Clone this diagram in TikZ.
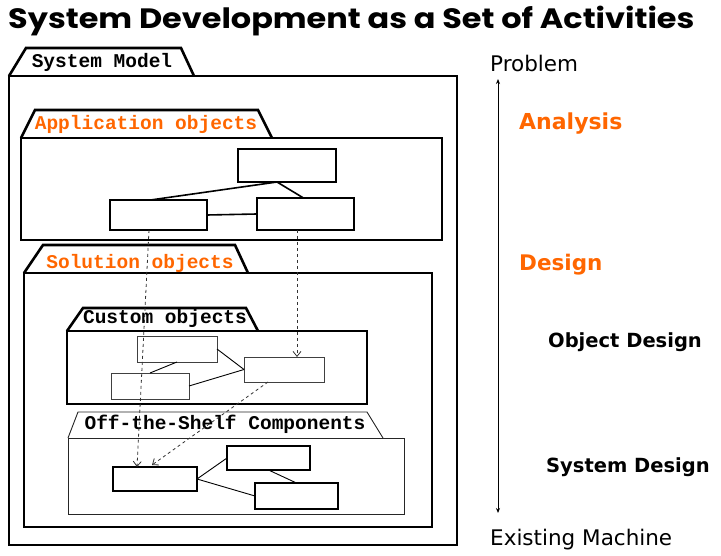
\documentclass[tikz,border=0pt]{standalone}
\usepackage{fontspec}
\setmainfont{DejaVu Sans}
\newfontfamily\headfont{Poppins}[FakeStretch=1.14]
\newfontfamily\codefont{Liberation Mono}
\usetikzlibrary{arrows.meta}

\definecolor{actorange}{HTML}{FF6600}

\tikzset{
  pkgline/.style={draw=black,line width=2.6pt,line join=miter},
  thinline/.style={draw=black!85,line width=0.9pt},
  pkgname/.style={font=\codefont\bfseries\fontsize{19.5}{20}\selectfont,inner sep=0pt},
  classbox/.style={draw=black,fill=white,anchor=north west,outer sep=0pt,inner sep=0pt},
  assoc/.style={draw=black,line width=0.9pt},
  trace/.style={draw=black!80,dashed,line width=0.8pt,-{Straight Barb[length=5pt,width=8pt]}}
}

\begin{document}
\begin{tikzpicture}[x=1pt,y=-1pt]
\useasboundingbox (0,0) rectangle (721,556);

\node[anchor=west,inner sep=0pt,font=\headfont\bfseries\fontsize{28}{30}\selectfont] (title) at (8,21)
  {System Development as a Set of Activities};

% packages
\begin{scope}[every node/.style={anchor=north west,outer sep=0pt,inner sep=0pt}]
  \node[pkgline,minimum width=448,minimum height=469] (sysbox) at (9,76) {};
  \node[pkgline,minimum width=421,minimum height=102] (appbox) at (21,138) {};
  \node[pkgline,minimum width=408,minimum height=254] (solbox) at (24,273) {};
  \node[pkgline,minimum width=300,minimum height=73] (custbox) at (67,331) {};
  \node[thinline,minimum width=336,minimum height=76] (otsbox) at (68,438) {};
\end{scope}

% tabs
\draw[pkgline] (sysbox.north west) -- ++(17,-28) -- ++(155,0) -- ++(13,28);
\draw[pkgline] (appbox.north west) -- ++(14,-28) -- ++(223,0) -- ++(14,28);
\draw[pkgline] (solbox.north west) -- ++(19,-28) -- ++(192,0) -- ++(13,28);
\draw[pkgline] (custbox.north west) -- ++(16,-23) -- ++(163,0) -- ++(12,23);
\draw[thinline] (otsbox.north west) -- ++(10,-26) -- ++(289,0) -- ++(16,26);

\node[pkgname] (sysname) at (102,62) {System Model};
\node[pkgname,text=actorange] (appname) at (146,124) {Application objects};
\node[pkgname,text=actorange] (solname) at (140,263) {Solution objects};
\node[pkgname] (custname) at (165,318) {Custom objects};
\node[pkgname] (otsname) at (225,424) {Off-the-Shelf Components};

% application objects
\begin{scope}[every node/.style={classbox,line width=1.8pt}]
  \node[minimum width=98,minimum height=33] (apptop) at (238,149) {};
  \node[minimum width=97,minimum height=30] (appleft) at (110,200) {};
  \node[minimum width=97,minimum height=32] (appright) at (257,198) {};
\end{scope}
\draw[assoc,line width=1.6pt] ([xshift=-10pt]apptop.south) -- ([xshift=-8pt]appleft.north);
\draw[assoc,line width=1.6pt] ([xshift=-10pt]apptop.south) -- ([xshift=-2pt]appright.north);
\draw[assoc,line width=1.6pt] (appleft.east) -- (appright.west);

% custom objects
\begin{scope}[every node/.style={classbox,draw=black!75,line width=0.9pt}]
  \node[minimum width=80,minimum height=26] (custa) at (137,336) {};
  \node[minimum width=78,minimum height=26] (custb) at (111,373) {};
  \node[minimum width=80,minimum height=25] (custc) at (244,357) {};
\end{scope}
\draw[assoc] (custa.south) -- (custb.north);
\draw[assoc] (custa.east) -- (custc.west);
\draw[assoc] (custb.east) -- (custc.west);

% off-the-shelf components
\begin{scope}[every node/.style={classbox,line width=1.3pt}]
  \node[minimum width=84,minimum height=24] (otsa) at (113,467) {};
  \node[minimum width=83,minimum height=24] (otsb) at (227,446) {};
  \node[minimum width=83,minimum height=26] (otsc) at (255,483) {};
\end{scope}
\draw[assoc] (otsa.east) -- (otsb.west);
\draw[assoc] (otsa.east) -- (otsc.west);
\draw[assoc] (otsb.south) -- (otsc.north);

% traces
\draw[trace] ([xshift=-9.5pt]appleft.south) -- ([xshift=-18pt]otsa.north);
\draw[trace] ([xshift=-8.5pt]appright.south) -- ([xshift=13pt]custc.north);
\draw[trace] ([xshift=-16pt]custc.south) -- ([xshift=-3pt,yshift=2pt]otsa.north);

% activity axis
\begin{scope}[every node/.style={anchor=west,inner sep=0pt}]
  \node[font=\fontsize{21.5}{23}\selectfont] (problem) at (490,63) {Problem};
  \node[font=\bfseries\fontsize{22}{24}\selectfont,text=actorange] (analysis) at (519,124) {Analysis};
  \node[font=\bfseries\fontsize{21.5}{24}\selectfont,text=actorange] (design) at (519,265) {Design};
  \node[font=\bfseries\fontsize{19.5}{21}\selectfont] (objdesign) at (548,342) {Object Design};
  \node[font=\bfseries\fontsize{19.5}{21}\selectfont] (sysdesign) at (546,467) {System Design};
  \node[font=\fontsize{21.5}{23}\selectfont] (machine) at (490,540) {Existing Machine};
\end{scope}
\coordinate (axtop) at (498,79);
\coordinate (axbot) at (498,513);
\draw[line width=0.9pt,{Stealth[length=5pt,width=4pt]}-{Stealth[length=5pt,width=4pt]}] (axtop) -- (axbot);
\end{tikzpicture}
\end{document}
